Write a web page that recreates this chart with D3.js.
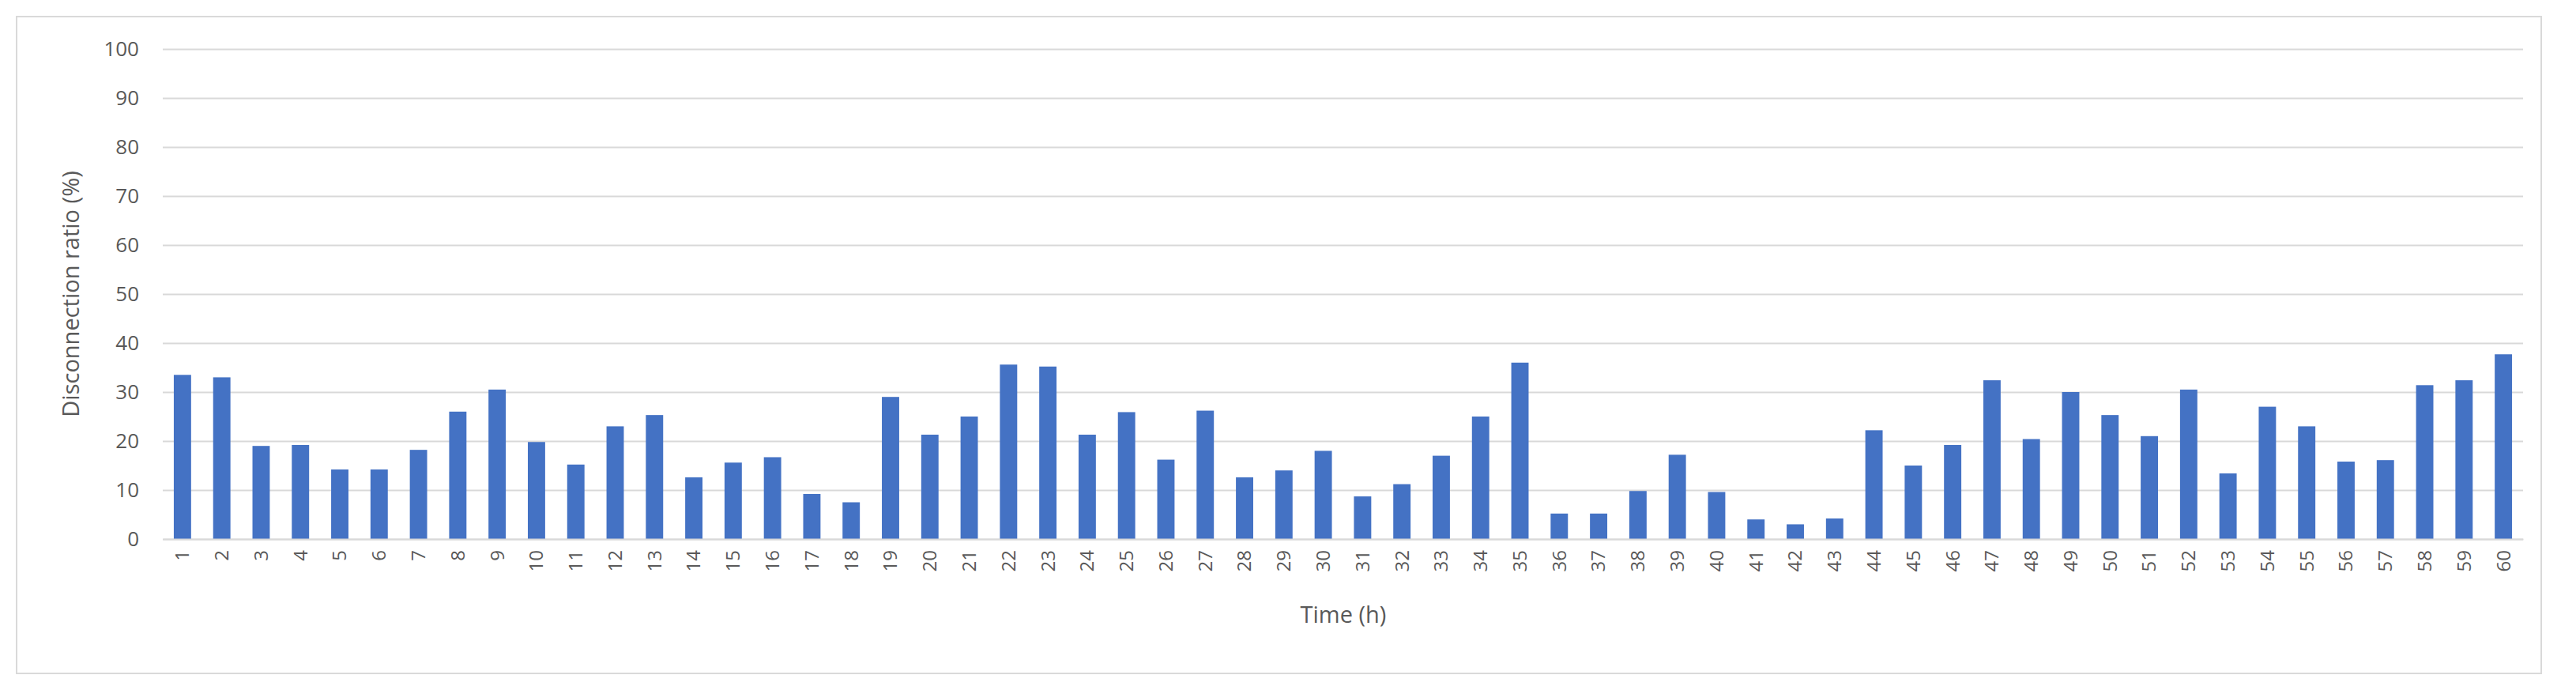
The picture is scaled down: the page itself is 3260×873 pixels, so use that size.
<!DOCTYPE html><html><head><meta charset="utf-8">
<script src="https://cdn.jsdelivr.net/npm/d3@7"></script>
<style>body{margin:0;background:#fff}</style></head><body><svg id="c" width="3260" height="873"></svg>
<script>
const hours = d3.range(1,61).map(String);
const ratio = [33.5,33,19,19.2,14.2,14.2,18.2,26,30.5,19.8,15.2,23,25.3,12.6,15.6,16.7,9.2,7.5,29,21.3,25,35.6,35.2,21.3,25.9,16.2,26.2,12.6,14,18,8.7,11.2,17,25,36,5.2,5.2,9.8,17.2,9.6,4,3,4.2,22.2,15,19.2,32.4,20.4,30,25.3,21,30.5,13.4,27,23,15.8,16.1,31.4,32.4,37.7];
const yTicks = [0,10,20,30,40,50,60,70,80,90,100];
const svg = d3.select("#c");
const font = "'Open Sans', 'Noto Sans', sans-serif";
svg.append("rect").attr("x",21).attr("y",21).attr("width",3195).attr("height",831).attr("fill","#fff").attr("stroke","#d9d9d9").attr("stroke-width",2);
const x = d3.scaleBand().domain(hours).range([206,3193]).paddingInner(0.56).paddingOuter(0.28);
const y = d3.scaleLinear().domain([0,100]).range([682,62]);
const gy = svg.append("g").attr("transform","translate(206,0)").call(d3.axisLeft(y).tickValues(yTicks).tickSize(-2987).tickPadding(30));
gy.select(".domain").remove();
gy.selectAll("line").attr("stroke","#d9d9d9").attr("stroke-width",2);
gy.selectAll("text").attr("fill","#595959").style("font-size","26px").style("font-family",font);
svg.selectAll("rect.bar").data(ratio).join("rect").attr("class","bar")
 .attr("x",(d,i)=>x(hours[i])).attr("width",x.bandwidth())
 .attr("y",d=>y(d)).attr("height",d=>y(0)-y(d)).attr("fill","#4472C4");
const gx = svg.append("g").attr("transform","translate(0,682)").call(d3.axisBottom(x).tickSize(0));
gx.select(".domain").attr("stroke","#d9d9d9").attr("stroke-width",2);
gx.selectAll(".tick text").attr("fill","#595959").style("font-size","24px").style("font-family",font)
 .attr("transform","rotate(-90)").attr("x",-14).attr("y",0).attr("dy","0.35em").attr("text-anchor","end");
svg.append("text").attr("x",1700).attr("y",788).attr("text-anchor","middle").attr("fill","#595959").style("font-size","29px").style("font-family",font).text("Time (h)");
svg.append("text").attr("transform","translate(100,372) rotate(-90)").attr("text-anchor","middle").attr("fill","#595959").style("font-size","29px").style("font-family",font).text("Disconnection ratio (%)");
</script></body></html>
